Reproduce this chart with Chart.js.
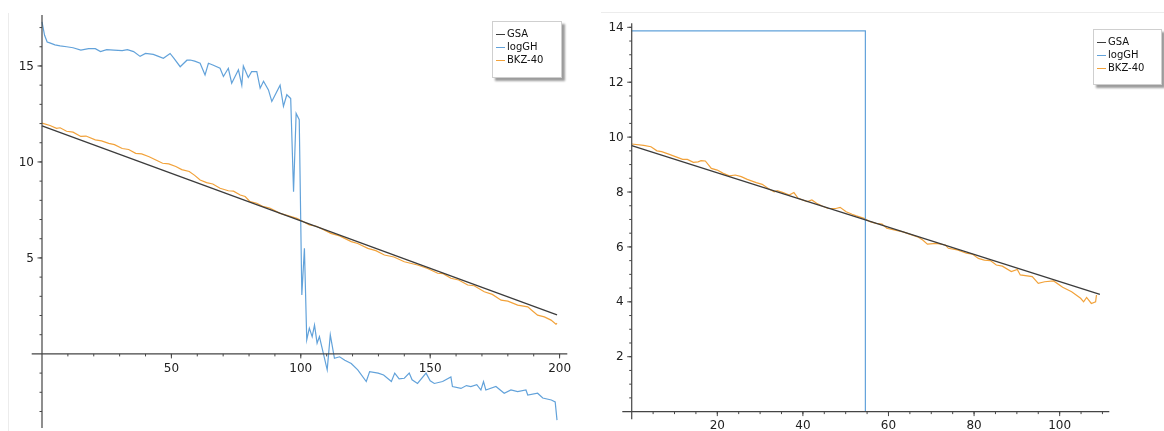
<!DOCTYPE html>
<html>
<head>
<meta charset="utf-8">
<script src="https://cdn.jsdelivr.net/npm/chart.js@4.4.1/dist/chart.umd.min.js"></script>
<style>
  body { margin: 0; width: 1164px; height: 431px; overflow: hidden; background: #fff; position: relative; font-family: "DejaVu Sans", sans-serif; }
  canvas { position: absolute; top: 0; }
  #leftPlot { left: 0; }
  #rightPlot { left: 584px; }
  .edge { position: absolute; background: #ececec; }
  .legend { position: absolute; box-sizing: border-box; background: #fff; border: 1px solid #cfcfcf; box-shadow: 3px 3px 2px #9c9c9c; font-size: 10px; color: #111; padding: 5px 0 0 3px; }
  .legend div { height: 13px; line-height: 13px; white-space: nowrap; }
  .legend span { display: inline-block; width: 9px; height: 0; border-top: 1.3px solid; vertical-align: middle; margin-right: 2px; }
</style>
</head>
<body>
<div class="edge" style="left:8px;top:13px;width:1px;height:418px"></div>
<div class="edge" style="left:601px;top:12px;width:563px;height:1px"></div>
<canvas id="leftPlot" width="580" height="431"></canvas>
<canvas id="rightPlot" width="600" height="431"></canvas>
<div class="legend" id="leftLegend" style="left:492px;top:21px;width:70px;height:57px"></div>
<div class="legend" id="rightLegend" style="left:1093px;top:29px;width:69px;height:56px"></div>
<script>
// ======================
// DATA
// ======================
const seriesNames = ["GSA", "logGH", "BKZ-40"];
const seriesColors = ["#3c3c3c", "#62a2da", "#f2a23a"];

// left plot, dimension 200
const gsaLeft = [[0, 11.88], [199, 2.03]];
const logghLeft = [
  [0,17.3],[1,16.6],[2,16.25],[3,16.2],[5,16.1],[7,16.05],[9.5,16.0],[12,15.95],[15,15.83],[18,15.9],
  [20.6,15.9],[22.6,15.75],[25,15.85],[27.8,15.83],[31,15.8],[33,15.85],[35.4,15.75],[37.9,15.5],[40,15.65],
  [43,15.6],[45,15.5],[46.9,15.4],[49.5,15.65],[51,15.4],[53.4,14.96],[56,15.3],[57.3,15.31],[59,15.25],
  [61.1,15.14],[63,14.53],[64.3,15.14],[66,15.05],[68.8,14.88],[70.1,14.45],[72,14.88],[73.3,14.1],[75.9,14.8],
  [77.2,14.0],[77.8,15.0],[79.7,14.4],[81,14.7],[83,14.7],[84.3,13.84],[85.6,14.2],[87.5,13.75],[88.8,13.15],
  [92,14.0],[93.3,12.9],[94.6,13.5],[96.1,13.3],[97.2,8.45],[98.2,12.53],[99.4,12.2],[100.4,3.07],[101.4,5.5],
  [102.3,0.73],[103.3,1.34],[104.4,0.9],[105.3,1.5],[106.3,0.56],[107.2,0.9],[108.1,0.38],[110.2,-0.83],
  [111.4,0.99],[113,-0.23],[115,-0.15],[117,-0.33],[119.5,-0.5],[122,-0.83],[125.3,-1.44],[126.6,-0.92],
  [129.9,-1.0],[132,-1.1],[135,-1.44],[136.3,-1.0],[138,-1.3],[140,-1.27],[141.9,-1.0],[143,-1.35],[145.1,-1.54],
  [148.4,-1.0],[150,-1.4],[151.6,-1.54],[154.8,-1.44],[158,-1.2],[158.6,-1.7],[161.9,-1.8],[164,-1.65],
  [165.7,-1.7],[168,-1.6],[169.6,-1.88],[170.6,-1.44],[171.5,-1.88],[175.4,-1.7],[178.6,-2.05],[181.2,-1.88],
  [183.8,-1.96],[187,-1.88],[187.7,-2.14],[191.5,-2.05],[193.5,-2.3],[196.8,-2.4],[198.3,-2.5],[199,-3.45]
];
const bkzLeft = [
  [0,12.02],[3.1,11.9],[5.6,11.75],[7,11.78],[9.5,11.6],[12,11.55],[15,11.33],[17,11.35],[20.6,11.15],
  [23,11.1],[25.8,10.97],[28,10.9],[31,10.7],[33.5,10.65],[36.2,10.45],[38.5,10.42],[41.4,10.27],[44,10.1],
  [46.6,9.93],[49,9.9],[51.7,9.76],[54,9.6],[56.9,9.5],[59,9.3],[61.1,9.06],[63.6,8.92],[66,8.85],[68.8,8.63],
  [72,8.5],[74,8.48],[76.6,8.28],[78.5,8.2],[80.4,7.93],[83,7.85],[85.6,7.67],[88,7.6],[92,7.32],[95,7.2],
  [98.5,7.06],[99.8,6.98],[103.3,6.72],[106,6.65],[109,6.46],[111.6,6.28],[115,6.15],[119.5,5.85],[122,5.75],
  [125.9,5.5],[129,5.38],[132.3,5.15],[136,5.05],[140,4.8],[145.1,4.63],[149,4.45],[152.9,4.2],[155,4.18],
  [158,3.94],[161,3.85],[164.5,3.59],[167,3.55],[170.9,3.24],[174,3.1],[177.4,2.8],[180,2.75],[183.8,2.54],
  [187.7,2.45],[189,2.3],[191.5,2.02],[194.1,1.93],[196.7,1.76],[198.6,1.55],[199,1.6]
];

// right plot, dimension 110
const gsaRight = [[0, 9.69], [109.4, 4.27]];
const logghRight = [[0, 13.87], [54.6, 13.87], [54.6, 0]];
const bkzRight = [
  [0,9.75],[2.8,9.7],[4.5,9.65],[5.9,9.5],[7,9.47],[8.8,9.37],[10.2,9.29],[11.9,9.19],[13,9.19],[14.4,9.08],
  [15.5,9.1],[16.2,9.14],[17.2,9.13],[18.6,8.86],[20,8.8],[21.4,8.68],[22.8,8.59],[24.2,8.62],[25.6,8.56],
  [27,8.46],[29.1,8.34],[30.5,8.28],[31.9,8.13],[33.3,8.01],[34,8.05],[35.4,7.98],[36.8,7.89],[37.9,7.98],
  [38.9,7.77],[41,7.65],[42.1,7.71],[43.2,7.59],[44.5,7.49],[45.9,7.4],[47.7,7.4],[48.7,7.44],[50.1,7.28],
  [51.5,7.19],[52.5,7.13],[54.3,7.04],[55.7,6.92],[57.1,6.86],[58.5,6.83],[59.6,6.68],[61.3,6.62],[63.4,6.55],
  [65.6,6.43],[67,6.35],[68,6.25],[69.1,6.1],[71.2,6.13],[73.3,6.07],[74,5.95],[76.1,5.89],[78.2,5.77],
  [79.6,5.74],[81,5.58],[82.4,5.52],[83.8,5.5],[85.2,5.34],[86.6,5.3],[88.7,5.1],[90.1,5.18],[90.8,4.98],
  [93.6,4.92],[95,4.67],[96.5,4.73],[98.6,4.76],[100.7,4.53],[102.8,4.37],[104.9,4.13],[105.6,4.0],
  [106.3,4.16],[107.4,3.94],[108.4,4.0],[108.6,4.25]
];

// tick labels
const leftXTicks = [50, 100, 150, 200];
const leftYTicks = [5, 10, 15];
const rightXTicks = [20, 40, 60, 80, 100];
const rightYTicks = [2, 4, 6, 8, 10, 12, 14];


// ======================
// AXES THROUGH THE ORIGIN (sage style)
// ======================
const sageAxes = {
  id: "sageAxes",
  afterDatasetsDraw(chart, args, opts) {
    const { ctx, chartArea: a } = chart;
    const sx = chart.scales.x, sy = chart.scales.y;
    const x0 = sx.getPixelForValue(0);
    const y0 = sy.getPixelForValue(0);

    ctx.save();
    ctx.strokeStyle = "#454545";
    ctx.lineWidth = 1.2;
    ctx.beginPath();
    ctx.moveTo(a.left, y0); ctx.lineTo(a.right, y0);
    ctx.moveTo(x0, a.top); ctx.lineTo(x0, a.bottom);
    ctx.stroke();

    ctx.lineWidth = 1;
    ctx.beginPath();
    // minor ticks
    for (let v = Math.ceil(sx.min / opts.xMinor) * opts.xMinor; v <= sx.max; v += opts.xMinor) {
      if (Math.abs(v) < 1e-9) continue;
      const p = sx.getPixelForValue(v);
      ctx.moveTo(p, y0); ctx.lineTo(p, y0 + 2.5);
    }
    for (let v = Math.ceil(sy.min / opts.yMinor) * opts.yMinor; v <= sy.max; v += opts.yMinor) {
      if (Math.abs(v) < 1e-9) continue;
      const p = sy.getPixelForValue(v);
      ctx.moveTo(x0, p); ctx.lineTo(x0 - 2.5, p);
    }
    // major ticks
    opts.xTicks.forEach(v => {
      const p = sx.getPixelForValue(v);
      ctx.moveTo(p, y0); ctx.lineTo(p, y0 + 4.5);
    });
    opts.yTicks.forEach(v => {
      const p = sy.getPixelForValue(v);
      ctx.moveTo(x0, p); ctx.lineTo(x0 - 4.5, p);
    });
    ctx.stroke();

    // labels
    ctx.fillStyle = "#222";
    ctx.font = "12px 'DejaVu Sans'";
    ctx.textAlign = "center";
    ctx.textBaseline = "middle";
    opts.xTicks.forEach(v => ctx.fillText(String(v), sx.getPixelForValue(v), y0 + 14.5));
    ctx.textAlign = "right";
    opts.yTicks.forEach(v => ctx.fillText(String(v), x0 - 8, sy.getPixelForValue(v) + 0.5));
    ctx.restore();
  }
};


// ======================
// CREATE PLOT
// ======================
function createPlot(id, series, range, padding, ticks) {
  const canvas = document.getElementById(id);

  return new Chart(canvas, {
    type: "scatter",
    data: {
      datasets: series.map((d, i) => ({
        label: seriesNames[i],
        data: d,
        showLine: true,
        borderColor: seriesColors[i],
        borderWidth: i === 0 ? 1.3 : 1.2,
        pointRadius: 0,
        tension: 0
      }))
    },
    options: {
      responsive: false,
      animation: false,
      devicePixelRatio: 1,
      layout: { padding: padding },
      plugins: {
        legend: { display: false },
        tooltip: { enabled: false },
        sageAxes: ticks
      },
      scales: {
        x: { type: "linear", display: false, min: range[0], max: range[1] },
        y: { type: "linear", display: false, min: range[2], max: range[3] }
      }
    },
    plugins: [sageAxes]
  });
}

function buildLegend(chart, boxId) {
  const box = document.getElementById(boxId);
  chart.data.datasets.forEach(ds => {
    const row = document.createElement("div");
    const line = document.createElement("span");
    line.style.borderColor = ds.borderColor;
    row.appendChild(line);
    row.appendChild(document.createTextNode(ds.label));
    box.appendChild(row);
  });
}

const leftChart = createPlot(
  "leftPlot",
  [gsaLeft, logghLeft, bkzLeft],
  [-3.98, 202.98, -3.86, 17.66],
  { left: 31.7, right: 12.7, top: 14.9, bottom: 3 },
  { xTicks: leftXTicks, yTicks: leftYTicks, xMinor: 10, yMinor: 1 }
);

const rightChart = createPlot(
  "rightPlot",
  [gsaRight, logghRight, bkzRight],
  [-2.2, 111.6, -0.28, 14.15],
  { left: 38.3, right: 74.7, top: 23.2, bottom: 11.7 },
  { xTicks: rightXTicks, yTicks: rightYTicks, xMinor: 5, yMinor: 0.5 }
);

buildLegend(leftChart, "leftLegend");
buildLegend(rightChart, "rightLegend");
</script>
</body>
</html>
